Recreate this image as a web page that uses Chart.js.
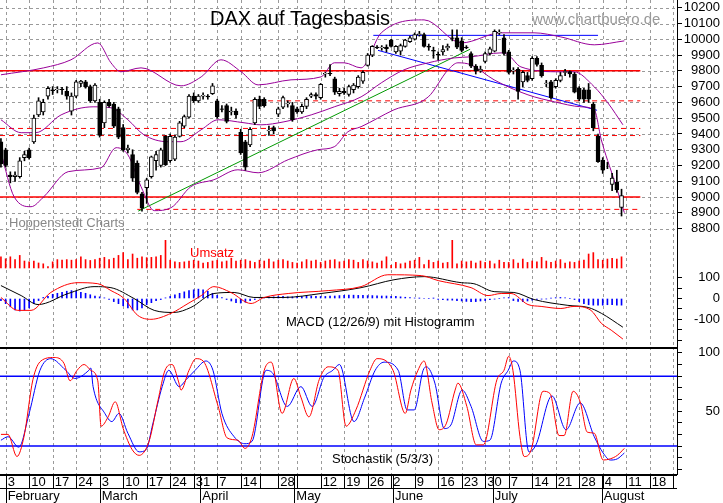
<!DOCTYPE html>
<html><head><meta charset="utf-8">
<script src="https://cdn.jsdelivr.net/npm/chart.js@4/dist/chart.umd.min.js"></script>
<style>
body{margin:0;background:#fff;width:723px;height:503px;overflow:hidden;position:relative;font-family:'Liberation Sans',Arial,sans-serif}
.p{position:absolute;left:0;width:723px}
</style></head><body>
<div class="p" style="top:0;height:240px"><canvas id="c1"></canvas></div>
<div class="p" style="top:240px;height:107px"><canvas id="c2"></canvas></div>
<div class="p" style="top:347px;height:156px"><canvas id="c3"></canvas></div>
<script>
// ---------- DATA ----------
const weekIdx = [1,6,11,16,21,26,31,36,41,46,51,55,59,63,68,73,78,83,88,93,98,103,108,113,118,123,128,133,138,143];
const weekLabels = ['3','10','17','24','3','10','17','24','31','7','14','','28','','12','19','26','2','9','16','23','30','7','14','21','28','4','11','18',''];
const monthIdx = [1,21,42.4,62.4,83.4,104.6,127.8];
const monthLabels = ['February','March','April','May','June','July','August'];
const priceTicks = [8800,8900,9000,9100,9200,9300,9400,9500,9600,9700,9800,9900,10000,10100,10200];
const macdTicks = [-200,-150,-100,-50,0,50,100];
const macdLabelTicks = [-100,0,100];
const stochTicks = [0,10,20,30,40,50,60,70,80,90,100];
const stochLabelTicks = [50,100];

// open, high, low, close
const ohlc = [
[9350,9370,9190,9210],[9300,9310,9190,9200],[9140,9160,9090,9130],[9130,9160,9100,9140],[9130,9250,9120,9230],
[9250,9290,9230,9270],[9300,9310,9240,9250],[9350,9520,9340,9500],[9520,9630,9510,9610],[9540,9620,9520,9600],
[9640,9700,9620,9690],[9680,9700,9650,9675],[9680,9700,9660,9685],[9685,9695,9650,9680],[9670,9700,9620,9640],
[9545,9660,9520,9640],[9640,9740,9630,9730],[9720,9740,9700,9735],[9730,9740,9690,9700],[9700,9710,9600,9610],
[9610,9720,9600,9710],[9600,9620,9380,9390],[9470,9610,9440,9600],[9600,9620,9570,9580],[9590,9600,9440,9450],
[9560,9570,9370,9380],[9440,9460,9290,9300],[9300,9330,9280,9310],[9270,9300,9100,9120],[9215,9230,9020,9030],
[9020,9030,8910,8930],[9060,9120,8960,9110],[9130,9260,9120,9255],[9230,9290,9170,9270],[9200,9310,9190,9300],
[9385,9390,9200,9205],[9230,9400,9220,9385],[9240,9390,9230,9380],[9385,9480,9380,9470],[9450,9520,9440,9510],
[9506,9650,9500,9640],[9640,9660,9600,9610],[9610,9650,9600,9640],[9640,9660,9620,9645],[9640,9650,9620,9635],
[9655,9720,9650,9705],[9610,9620,9500,9510],[9560,9580,9540,9555],[9580,9590,9470,9480],[9540,9570,9520,9545],
[9545,9560,9500,9520],[9410,9430,9270,9280],[9350,9360,9170,9190],[9330,9440,9320,9430],[9470,9630,9460,9620],
[9620,9640,9560,9575],[9620,9630,9570,9580],[9420,9450,9390,9425],[9440,9450,9400,9420],[9525,9570,9510,9560],
[9570,9640,9560,9630],[9590,9610,9570,9595],[9580,9600,9480,9490],[9560,9570,9530,9540],[9540,9590,9530,9575],
[9575,9630,9560,9620],[9640,9660,9630,9650],[9650,9660,9620,9640],[9630,9720,9620,9715],[9780,9790,9760,9785],
[9785,9840,9770,9780],[9750,9760,9650,9665],[9655,9690,9640,9670],[9670,9690,9650,9660],[9650,9710,9640,9700],
[9680,9720,9660,9710],[9700,9770,9690,9760],[9735,9800,9720,9790],[9835,9910,9830,9900],[9900,9960,9890,9955],
[9950,9960,9940,9945],[9945,9960,9930,9950],[9950,9965,9920,9940],[9995,10000,9950,9955],[9920,9960,9910,9955],
[9925,9970,9900,9960],[9955,10000,9950,9995],[9985,10020,9980,10010],[10000,10040,9995,10030],[10030,10050,10020,10035],
[10030,10040,9950,9955],[9955,9970,9930,9950],[9930,9950,9880,9925],[9905,9920,9870,9900],[9920,9960,9900,9935],
[9945,9970,9930,9955],[10010,10060,9990,10005],[10010,10060,9940,9950],[9990,10010,9920,9930],[9950,9960,9940,9945],
[9910,9920,9820,9830],[9830,9840,9780,9800],[9800,9830,9790,9810],[9860,9920,9850,9910],[9910,9950,9900,9940],
[9925,10060,9920,10050],[10040,10060,10030,10045],[10010,10030,9900,9910],[9920,9930,9780,9790],[9800,9820,9780,9805],
[9810,9820,9620,9670],[9730,9800,9700,9790],[9770,9790,9730,9740],[9750,9890,9740,9880],[9880,9890,9830,9840],
[9835,9850,9760,9770],[9720,9740,9700,9722],[9730,9740,9620,9630],[9700,9750,9690,9740],[9740,9790,9730,9770],
[9790,9810,9770,9795],[9795,9800,9760,9780],[9780,9790,9660,9665],[9690,9700,9610,9620],[9680,9690,9600,9620],
[9680,9720,9600,9620],[9590,9600,9420,9440],[9385,9400,9220,9225],[9235,9250,9150,9170],[9200,9220,9180,9200],
[9080,9150,9040,9120],[9095,9170,9030,9045],[8935,9050,8880,9010]
];

const bandUpper = [[0,9775],[9.1,9819],[14.9,9870],[20.6,9977],[23.4,9851],[25.5,9794],[29.8,9819],[38.3,9705],[42.6,9762],[46.8,9870],[51.1,9794],[54.7,9711],[61.7,9743],[68.1,9762],[70.9,9851],[73,9851],[76.6,9819],[80.9,10041],[90,10123],[97.9,9977],[106.4,10041],[113.4,10041],[119.1,10015],[126.2,9965],[132.6,9990]];
const bandMiddle = [[0,9490],[4.3,9408],[7.4,9408],[12.8,9521],[19.6,9572],[23.4,9566],[27,9490],[30.4,9395],[35.5,9351],[38.3,9351],[42.6,9427],[46.2,9490],[51.7,9471],[55.3,9458],[60.2,9477],[66,9521],[70.9,9572],[76.6,9635],[80.9,9724],[85.7,9806],[90.9,9851],[96.4,9882],[100,9889],[106.4,9914],[107.9,9901],[110.6,9825],[119.1,9794],[121.9,9794],[126.2,9699],[129.1,9597],[132.3,9458]];
const bandLower = [[0,9281],[2.8,9002],[6.4,8939],[9.1,9002],[14.3,9161],[21.3,9186],[24.5,9313],[27,9268],[29.8,9066],[32.6,8914],[36.2,8933],[40.4,9066],[45.3,9110],[50.4,9173],[54.7,9154],[61.1,9237],[67.4,9300],[70.9,9319],[73.8,9414],[76.6,9446],[83.6,9553],[90.9,9635],[95.1,9806],[97.2,9851],[100,9838],[104.9,9743],[112.1,9648],[117.7,9604],[123.4,9572],[126.2,9553],[127.7,9363],[130.4,9110],[132.6,8901]];

const greenTrend = [[29.2,8911],[99.8,9937]];
const blueTrend = [[80.2,9930],[126.8,9550]];
const blueTop = [[79.2,10025],[127,10025]];
const solidLevels = [9800,9000];
const dashedLevels = [9610,9435,9390,8922];
const dashedStarts = [53,-0.2,-0.2,29];
const levelStart = -0.2, levelEnd = 136;

const volume = [40,33,40,30,45,25,22,25,18,15,5,22,30,28,30,28,30,40,30,27,30,35,38,30,35,45,55,30,50,35,40,37,38,40,45,100,28,22,20,22,25,28,25,18,20,25,28,22,25,35,25,28,30,25,20,28,25,32,22,28,30,25,20,18,22,30,25,28,20,25,28,30,22,25,30,28,20,30,25,22,18,25,40,10,20,15,18,25,28,38,12,28,20,25,18,20,100,15,25,22,25,18,25,20,25,15,28,20,20,30,18,32,20,25,22,38,25,20,25,30,18,22,20,25,28,50,55,30,28,32,35,32,40];
const macdLine = [[0,5],[3.6,-57],[6.4,-57],[10.6,29],[16.4,76],[20.6,71],[23.4,38],[26.2,0],[29.1,-81],[31.9,-100],[36.2,-71],[39.8,-24],[42.6,14],[45.3,57],[48.9,29],[53.2,-24],[56,5],[61.1,24],[69.6,38],[76.6,57],[82.3,114],[89.4,110],[93,86],[100,52],[103.6,14],[106.4,24],[108.5,24],[112.1,-29],[114.9,-38],[119.1,-48],[121.9,-38],[125.5,-57],[127.7,-119],[129.8,-152],[132.3,-195]];
const signalLine = [[0,62],[4.3,14],[7.9,-29],[14.3,24],[19.8,57],[23.4,52],[28.3,0],[32.6,-57],[36.8,-67],[40.4,-43],[45.3,24],[49.6,29],[53.8,5],[60.2,5],[68.1,24],[76.6,52],[83.6,90],[90,105],[97.9,76],[100.6,71],[104.9,33],[109.1,29],[113.4,-5],[120.6,-33],[124.9,-43],[127.7,-71],[132.3,-138]];
const histogram = [-10,-25,-40,-55,-60,-55,-45,-25,-10,5,10,20,25,30,35,38,35,30,25,18,12,8,3,-5,-15,-25,-35,-45,-55,-55,-45,-30,-20,-10,-5,3,10,18,25,32,38,42,45,42,35,25,15,5,-5,-12,-20,-22,-18,-10,-5,3,5,8,8,10,10,8,8,10,10,12,12,10,10,10,12,12,14,15,16,16,15,15,14,14,13,12,12,10,10,8,6,4,2,1,0,0,1,-5,-6,-8,-8,-10,-12,-14,-15,-15,-12,-10,-6,-3,0,3,5,-10,-14,-15,-12,-8,-5,-3,-2,2,4,5,3,0,-5,-15,-25,-30,-32,-32,-32,-30,-30,-32,-32];

const stochK = [[0,30],[1.5,30],[3.4,11],[4.9,28],[6.8,77],[8.5,93],[11.3,96],[13.4,91],[14.7,76],[16.2,85],[17.7,90],[19.1,85],[20.6,76],[21.3,37],[22.8,45],[24.3,58],[26,35],[27.9,17],[29.4,12],[31.5,24],[33.4,59],[34.9,85],[36.4,90],[37.8,75],[38.3,68],[40,85],[41.5,95],[43,93],[46.2,54],[48.1,27],[50.4,25],[51.9,18],[53.4,28],[56,85],[57.5,92],[59.8,48],[62.3,78],[63.8,62],[65.5,45],[67.7,77],[69.6,88],[71.7,85],[73.4,37],[75.5,51],[78.5,85],[80,95],[83.4,85],[86,48],[87.2,68],[88.7,85],[90,93],[91.7,57],[93.2,34],[94.7,39],[96.6,68],[97.2,74],[99.1,54],[101.1,21],[102.6,21],[105.5,77],[107,85],[108,97],[108.9,85],[110.4,28],[111.3,11],[112.8,17],[115.3,67],[116.8,65],[118.7,29],[119.8,29],[121.7,67],[123.2,58],[124.7,32],[126.2,31],[128.1,8],[129.6,9],[131.1,12],[132.6,18]];
const stochD = [[0,25],[1.5,28],[3.8,19],[6,48],[8.3,85],[10.6,95],[13.8,85],[15.7,78],[18.7,85],[19.1,87],[19.6,71],[22.1,48],[23.6,41],[25.1,48],[27,31],[29.4,15],[30.9,17],[32.3,39],[34.3,71],[35.7,85],[37.9,71],[39.4,77],[41.3,85],[43.6,93],[45.1,85],[47,48],[49.6,28],[51.9,22],[53.4,24],[56.4,85],[57.9,82],[60.9,54],[63.8,71],[66.2,54],[68.7,79],[70.6,85],[72,90],[75.1,41],[77.4,62],[79.6,85],[81.5,92],[84.5,85],[86.4,51],[87.9,51],[89.8,85],[90.5,88],[92.3,74],[94.3,35],[95.7,38],[98.1,68],[100,54],[102.6,24],[104,25],[106.4,74],[107.9,85],[109,93],[110.4,85],[112.3,15],[113.8,21],[117.2,63],[120.2,34],[123.2,57],[126.2,28],[128.1,14],[129.6,8],[131.1,9],[132.6,14]];
const stochLevels = [80,20];

// ---------- HELPERS ----------
const FONT = "'Liberation Sans', Arial, sans-serif";
const XMIN = -0.2, XMAX = 143.8;
const pts = a => a.map(p => ({x:p[0], y:p[1]}));
const xScale = () => ({type:'linear', min:XMIN, max:XMAX, display:false, offset:false, grid:{offset:false}});
function rightAxis(min, max, ticks, labels) {
  return {
    position:'right', min, max,
    afterBuildTicks: s => { s.ticks = ticks.map(v => ({value:v})); },
    afterFit: s => { s.width = 43; s.paddingTop = 0; s.paddingBottom = 0; },
    grid:{drawOnChartArea:false, drawTicks:true, tickLength:5, color:'#000', lineWidth:1},
    border:{display:true, color:'#000', width:1},
    ticks:{color:'#000', font:{family:FONT, size:13}, padding:2, crossAlign:'far', autoSkip:false,
      callback: v => labels ? (labels.includes(v) ? String(v) : '') : String(v)}
  };
}
function gridPlugin(yKey, yVals) {
  return {
    id:'grid'+Math.floor(Math.random()*1e6),
    beforeDatasetsDraw(chart) {
      const {ctx, chartArea:a} = chart, xs = chart.scales.x;
      ctx.save();
      ctx.strokeStyle = '#9a9a9a'; ctx.lineWidth = 1; ctx.setLineDash([3,3]);
      ctx.beginPath();
      weekIdx.forEach(v => { const px = Math.round(xs.getPixelForValue(v)) + 0.5; if (px < a.right - 1) { ctx.moveTo(px, a.top); ctx.lineTo(px, a.bottom); } });
      if (yVals) { const ys = chart.scales[yKey]; yVals.forEach(v => { const py = Math.round(ys.getPixelForValue(v)) + 0.5; ctx.moveTo(a.left, py); ctx.lineTo(a.right, py); }); }
      ctx.stroke(); ctx.restore();
    }
  };
}
const lineDs = (data, color, extra) => Object.assign({type:'line', data:pts(data), borderColor:color, borderWidth:1, pointRadius:0, fill:false, tension:0, order:2}, extra||{});
const common = {responsive:true, maintainAspectRatio:false, animation:false, events:[],
  plugins:{legend:{display:false}, tooltip:{enabled:false}},
  datasets:{bar:{grouped:false}}};

// ---------- PRICE CHART ----------
const priceDs = [
  {type:'bar', data:ohlc.map((d,i)=>({x:i, y:[d[0], d[3]]})), barThickness:4,
   backgroundColor:ohlc.map(d => d[3] >= d[0] ? '#fff' : '#000'), borderColor:'#000', borderWidth:1, borderSkipped:false, order:0},
  {type:'bar', data:ohlc.map((d,i)=>({x:i, y:[d[2], d[1]]})), barThickness:1, backgroundColor:'#000', order:1},
  lineDs(bandUpper, '#990099', {cubicInterpolationMode:'monotone'}),
  lineDs(bandMiddle, '#990099', {cubicInterpolationMode:'monotone'}),
  lineDs(bandLower, '#990099', {cubicInterpolationMode:'monotone'}),
  lineDs(greenTrend, '#009900'),
  lineDs(blueTrend, '#0000ff'),
  lineDs(blueTop, '#0000ff'),
];
solidLevels.forEach(v => priceDs.push(lineDs([[levelStart,v],[levelEnd,v]], '#ff0000', {borderWidth:1.5})));
dashedLevels.forEach((v,i) => priceDs.push(lineDs([[dashedStarts[i],v],[levelEnd,v]], '#ff0000', {borderDash:[5,4]})));

new Chart(document.getElementById('c1'), {
  type:'bar', data:{datasets:priceDs},
  options:Object.assign({}, common, {layout:{padding:{top:0,bottom:0,left:0,right:3}},
    scales:{x:xScale(), y:rightAxis(8728, 10249, priceTicks, null)}}),
  plugins:[gridPlugin('y', priceTicks), {id:'txt1', afterDraw(c){ const ctx=c.ctx; ctx.save();
    ctx.fillStyle='#000'; ctx.font='20px '+FONT; ctx.textBaseline='alphabetic'; ctx.fillText('DAX auf Tagesbasis', 210, 25);
    ctx.fillStyle='#999'; ctx.font='15px '+FONT; ctx.fillText('www.chartbuero.de', 532, 24);
    ctx.fillStyle='#888'; ctx.font='13px '+FONT; ctx.fillText('Hoppenstedt Charts', 9, 227);
    ctx.restore(); }}]
});

// ---------- MACD / VOLUME ----------
new Chart(document.getElementById('c2'), {
  type:'bar',
  data:{datasets:[
    {type:'bar', yAxisID:'yv', data:volume.map((v,i)=>({x:i, y:v})), barThickness:1, backgroundColor:'#ff0000', order:3},
    {type:'bar', yAxisID:'y', data:histogram.map((v,i)=>({x:i, y:v})), barThickness:1, backgroundColor:'#0000ff', order:2},
    lineDs(signalLine, '#000000', {yAxisID:'y', cubicInterpolationMode:'monotone', order:1}),
    lineDs(macdLine, '#ff0000', {yAxisID:'y', cubicInterpolationMode:'monotone', order:0}),
  ]},
  options:Object.assign({}, common, {layout:{padding:{top:0,bottom:0,left:0,right:3}},
    scales:{x:xScale(), y:rightAxis(-233, 281, macdTicks, macdLabelTicks), yv:{display:false, min:-282, max:100}}}),
  plugins:[gridPlugin(), {id:'txt2', afterDraw(c){ const ctx=c.ctx; ctx.save();
    ctx.fillStyle='#ff0000'; ctx.font='13px '+FONT; ctx.fillText('Umsatz', 190, 17);
    ctx.fillStyle='#000'; ctx.font='13px '+FONT; ctx.fillText('MACD (12/26/9) mit Histogramm', 286, 86);
    ctx.restore(); }}]
});

// ---------- STOCHASTIC + X AXIS ----------
const stDs = [
  lineDs(stochK, '#ff0000', {order:0, cubicInterpolationMode:'monotone'}),
  lineDs(stochD, '#0000ff', {order:1, cubicInterpolationMode:'monotone'}),
];
stochLevels.forEach(v => stDs.push(lineDs([[XMIN,v],[XMAX,v]], '#0000ff', {borderWidth:1.5, order:2})));
new Chart(document.getElementById('c3'), {
  type:'line', data:{datasets:stDs},
  options:Object.assign({}, common, {layout:{padding:{top:0,bottom:29,left:0,right:3}},
    scales:{x:xScale(), y:rightAxis(-4, 105, stochTicks, stochLabelTicks)}}),
  plugins:[gridPlugin(), {id:'axis3', afterDraw(c){
    const ctx=c.ctx, a=c.chartArea, xs=c.scales.x; ctx.save();
    ctx.strokeStyle='#000'; ctx.lineWidth=2;
    ctx.beginPath(); ctx.moveTo(0, a.top+1); ctx.lineTo(a.right, a.top+1); ctx.stroke();
    ctx.beginPath(); ctx.moveTo(0, a.bottom+1); ctx.lineTo(a.right, a.bottom+1); ctx.stroke();
    ctx.lineWidth=1;
    ctx.beginPath(); ctx.moveTo(0, a.bottom+14.5); ctx.lineTo(a.right, a.bottom+14.5); ctx.stroke();
    ctx.beginPath();
    weekIdx.forEach(v => { const px=Math.round(xs.getPixelForValue(v))+0.5; if (px < a.right) { ctx.moveTo(px, a.bottom); ctx.lineTo(px, a.bottom+14); } });
    monthIdx.forEach(v => { const px=Math.round(xs.getPixelForValue(v))+0.5; ctx.moveTo(px, a.bottom); ctx.lineTo(px, a.bottom+29); });
    ctx.stroke();
    ctx.fillStyle='#000'; ctx.font='13px '+FONT; ctx.textBaseline='middle';
    weekIdx.forEach((v,i) => { if (weekLabels[i]) ctx.fillText(weekLabels[i], xs.getPixelForValue(v)+2, a.bottom+8); });
    monthLabels.forEach((m,i) => ctx.fillText(m, xs.getPixelForValue(monthIdx[i])+2, a.bottom+22));
    ctx.textBaseline='alphabetic'; ctx.fillText('Stochastik (5/3/3)', 332, 116);
    ctx.restore(); }}]
});
</script>
</body></html>
